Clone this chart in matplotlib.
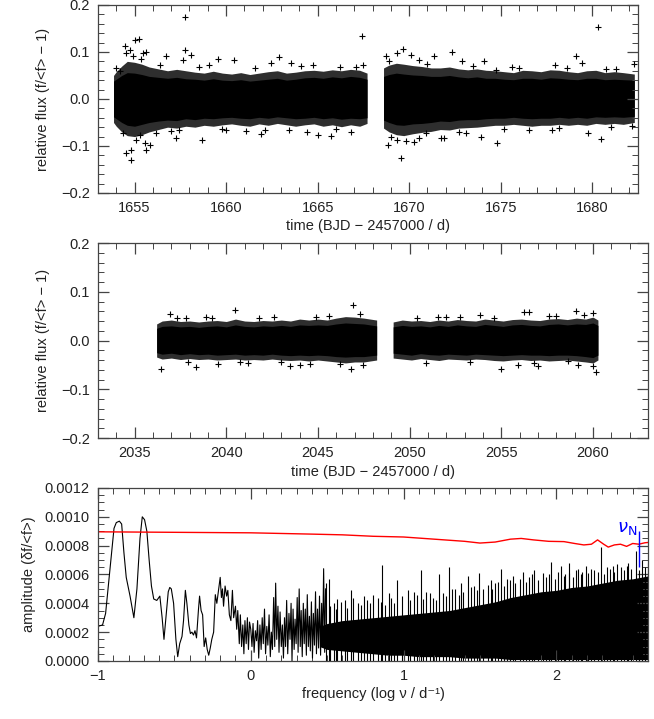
import numpy as np
import matplotlib.pyplot as plt
from matplotlib.ticker import MultipleLocator, FuncFormatter

plt.rcParams['font.family'] = ['Liberation Sans', 'DejaVu Sans']

# --- sector 1 light curve: dense core, sparse fringe, scattered points ---
s1a_t = [1653.85, 1654.0, 1654.3, 1654.6, 1655.0, 1655.4, 1655.8, 1656.3, 1656.8, 1657.3, 1657.8,
         1658.3, 1658.8, 1659.3, 1659.8, 1660.3, 1660.8, 1661.3, 1661.8, 1662.3, 1662.8, 1663.3,
         1663.8, 1664.3, 1664.8, 1665.3, 1665.8, 1666.3, 1666.8, 1667.3, 1667.7]
s1a_hi = [0.05, 0.058, 0.07, 0.08, 0.078, 0.074, 0.068, 0.064, 0.06, 0.063, 0.06, 0.057, 0.055,
          0.059, 0.055, 0.053, 0.056, 0.052, 0.055, 0.058, 0.06, 0.055, 0.057, 0.06, 0.061, 0.059,
          0.062, 0.06, 0.063, 0.061, 0.055]
s1a_lo = [-0.05, -0.058, -0.07, -0.078, -0.08, -0.076, -0.07, -0.065, -0.06, -0.062, -0.058,
          -0.06, -0.056, -0.058, -0.055, -0.053, -0.056, -0.058, -0.053, -0.056, -0.052, -0.055,
          -0.058, -0.055, -0.053, -0.058, -0.055, -0.059, -0.055, -0.058, -0.052]
s1a_chi = [0.038, 0.042, 0.05, 0.056, 0.055, 0.052, 0.048, 0.046, 0.044, 0.046, 0.043, 0.042, 0.04,
           0.043, 0.04, 0.039, 0.041, 0.038, 0.04, 0.042, 0.044, 0.04, 0.042, 0.045, 0.046, 0.044,
           0.047, 0.045, 0.048, 0.046, 0.042]
s1a_clo = [-0.038, -0.042, -0.05, -0.056, -0.058, -0.054, -0.05, -0.047, -0.045, -0.046, -0.042,
           -0.044, -0.041, -0.042, -0.04, -0.039, -0.041, -0.042, -0.039, -0.041, -0.038, -0.04,
           -0.042, -0.041, -0.039, -0.042, -0.04, -0.043, -0.041, -0.042, -0.04]
s1b_t = [1668.6, 1668.9, 1669.3, 1669.7, 1670.2, 1670.7, 1671.2, 1671.7, 1672.2, 1672.7, 1673.2,
         1673.7, 1674.2, 1674.7, 1675.2, 1675.7, 1676.2, 1676.7, 1677.2, 1677.7, 1678.2, 1678.7,
         1679.2, 1679.7, 1680.2, 1680.7, 1681.2, 1681.7, 1682.3]
s1b_hi = [0.066, 0.072, 0.076, 0.074, 0.071, 0.069, 0.066, 0.066, 0.068, 0.064, 0.062, 0.064,
          0.061, 0.06, 0.058, 0.056, 0.061, 0.06, 0.058, 0.062, 0.061, 0.058, 0.056, 0.06, 0.061,
          0.056, 0.058, 0.056, 0.053]
s1b_lo = [-0.062, -0.07, -0.076, -0.078, -0.074, -0.071, -0.069, -0.065, -0.066, -0.062, -0.061,
          -0.06, -0.058, -0.056, -0.056, -0.054, -0.056, -0.058, -0.056, -0.056, -0.054, -0.056,
          -0.054, -0.056, -0.052, -0.054, -0.052, -0.054, -0.05]
s1b_chi = [0.048, 0.052, 0.055, 0.053, 0.051, 0.05, 0.048, 0.048, 0.05, 0.047, 0.045, 0.047,
           0.044, 0.044, 0.042, 0.041, 0.044, 0.044, 0.042, 0.045, 0.044, 0.042, 0.041, 0.044,
           0.044, 0.041, 0.042, 0.041, 0.04]
s1b_clo = [-0.045, -0.05, -0.055, -0.056, -0.053, -0.052, -0.05, -0.047, -0.048, -0.045, -0.044,
           -0.044, -0.042, -0.041, -0.041, -0.039, -0.041, -0.042, -0.041, -0.041, -0.039, -0.041,
           -0.039, -0.041, -0.038, -0.039, -0.038, -0.039, -0.037]
s1_out_t = [1653.96, 1654.18, 1654.45, 1654.73, 1655.0, 1655.24, 1654.55, 1654.9, 1655.45, 1655.64,
            1655.36, 1657.73, 1657.76, 1658.1, 1657.64, 1656.73, 1659.04, 1659.55, 1660.45, 1662.9,
            1663.55, 1662.45, 1664.73, 1654.36, 1654.55, 1654.82, 1654.82, 1655.09, 1655.55, 1655.64,
            1655.85, 1655.27, 1657.27, 1658.67, 1657.45, 1660.0, 1661.1, 1661.9, 1663.45, 1665.0,
            1656.18, 1667.42, 1667.49, 1665.73, 1666.82, 1668.82, 1669.54, 1668.99, 1669.36, 1669.82,
            1670.27, 1670.54, 1671.73, 1671.91, 1672.73, 1673.09, 1673.91, 1674.78, 1676.54, 1677.82,
            1679.78, 1680.5, 1682.18, 1668.73, 1668.91, 1669.36, 1669.67, 1670.09, 1670.54, 1671.36,
            1672.33, 1672.91, 1674.09, 1674.73, 1677.96, 1679.09, 1679.45, 1680.33, 1680.76, 1682.27,
            1676.0, 1656.4, 1658.5, 1661.6, 1664.1, 1666.2, 1667.1, 1657.0, 1659.8, 1662.1, 1664.4,
            1666.0, 1671.0, 1673.5, 1675.6, 1678.6, 1681.3, 1670.9, 1675.2, 1678.2, 1681.0]
s1_out_f = [0.066, 0.059, 0.112, 0.105, 0.126, 0.128, 0.098, 0.091, 0.098, 0.099,
            0.084, 0.174, 0.105, 0.094, 0.082, 0.091, 0.073, 0.084, 0.082, 0.089,
            0.077, 0.077, 0.073, -0.072, -0.115, -0.108, -0.130, -0.087, -0.094, -0.108,
            -0.097, -0.076, -0.083, -0.088, -0.065, -0.065, -0.069, -0.074, -0.065, -0.076,
            -0.072, 0.133, 0.073, -0.079, -0.071, -0.097, -0.126, -0.081, -0.087, -0.090,
            -0.092, -0.083, -0.083, -0.083, -0.071, -0.072, -0.081, -0.094, -0.065, -0.065,
            -0.072, -0.085, -0.058, 0.091, 0.080, 0.098, 0.106, 0.094, 0.082, 0.091,
            0.099, 0.080, 0.080, 0.061, 0.073, 0.091, 0.077, 0.153, 0.064, 0.075,
            0.066, 0.072, 0.068, 0.066, 0.07, 0.067, 0.069, -0.068, -0.064, -0.066, -0.07,
            -0.064, 0.075, 0.07, 0.068, 0.066, 0.064, -0.072, -0.064, -0.062, -0.06]

# --- sector 2 light curve ---
s2a_t = [2036.2, 2036.5, 2037.0, 2037.5, 2038.0, 2038.5, 2039.0, 2039.5, 2040.0, 2040.5, 2041.0,
         2041.5, 2042.0, 2042.5, 2043.0, 2043.5, 2044.0, 2044.5, 2045.0, 2045.5, 2046.0, 2046.5,
         2047.0, 2047.5, 2048.2]
s2a_hi = [0.034, 0.04, 0.042, 0.039, 0.04, 0.038, 0.04, 0.041, 0.039, 0.044, 0.04, 0.039, 0.041,
          0.04, 0.042, 0.04, 0.044, 0.042, 0.044, 0.042, 0.046, 0.049, 0.048, 0.046, 0.042]
s2a_lo = [-0.034, -0.038, -0.036, -0.039, -0.037, -0.039, -0.038, -0.04, -0.039, -0.038, -0.04,
          -0.039, -0.04, -0.038, -0.04, -0.041, -0.04, -0.042, -0.04, -0.042, -0.044, -0.046,
          -0.044, -0.044, -0.04]
s2a_chi = [0.025, 0.029, 0.03, 0.028, 0.029, 0.027, 0.029, 0.03, 0.028, 0.032, 0.029, 0.028, 0.03,
           0.029, 0.031, 0.029, 0.032, 0.031, 0.032, 0.031, 0.034, 0.036, 0.035, 0.034, 0.03]
s2a_clo = [-0.025, -0.028, -0.026, -0.029, -0.027, -0.029, -0.028, -0.03, -0.029, -0.028, -0.03,
           -0.029, -0.03, -0.028, -0.03, -0.031, -0.03, -0.031, -0.03, -0.031, -0.033, -0.034,
           -0.033, -0.033, -0.03]
s2b_t = [2049.1, 2049.6, 2050.1, 2050.6, 2051.1, 2051.6, 2052.1, 2052.6, 2053.1, 2053.6, 2054.1,
         2054.6, 2055.1, 2055.6, 2056.1, 2056.6, 2057.1, 2057.6, 2058.1, 2058.6, 2059.1, 2059.6,
         2060.0, 2060.27]
s2b_hi = [0.038, 0.042, 0.04, 0.041, 0.039, 0.042, 0.04, 0.043, 0.041, 0.04, 0.044, 0.042, 0.04,
          0.043, 0.044, 0.042, 0.041, 0.044, 0.045, 0.043, 0.046, 0.044, 0.048, 0.042]
s2b_lo = [-0.036, -0.038, -0.04, -0.037, -0.039, -0.041, -0.038, -0.039, -0.04, -0.038, -0.039,
          -0.041, -0.042, -0.04, -0.039, -0.041, -0.04, -0.042, -0.041, -0.04, -0.042, -0.044,
          -0.046, -0.04]
s2b_chi = [0.028, 0.031, 0.029, 0.03, 0.028, 0.031, 0.029, 0.032, 0.03, 0.029, 0.033, 0.031,
           0.029, 0.032, 0.033, 0.031, 0.03, 0.033, 0.034, 0.032, 0.034, 0.033, 0.036, 0.031]
s2b_clo = [-0.026, -0.028, -0.03, -0.027, -0.029, -0.03, -0.028, -0.029, -0.03, -0.028, -0.029,
           -0.03, -0.031, -0.03, -0.029, -0.03, -0.03, -0.031, -0.03, -0.03, -0.031, -0.033,
           -0.035, -0.03]
s2_out_t = [2036.42, 2036.95, 2038.36, 2040.45, 2037.82, 2043.45, 2044.0, 2044.55, 2039.55, 2040.73,
            2044.9, 2038.9, 2046.91, 2046.82, 2047.31, 2047.45, 2055.0, 2056.22, 2056.51, 2055.91,
            2057.0, 2059.09, 2060.0, 2060.18, 2060.0, 2053.82, 2051.54, 2052.73, 2058.64, 2058.0,
            2037.3, 2039.2, 2041.8, 2042.6, 2045.6, 2050.4, 2052.0, 2054.6, 2057.6, 2059.5,
            2037.9, 2041.2, 2043.0, 2046.2, 2050.9, 2053.3, 2056.8, 2059.2]
s2_out_f = [-0.059, 0.054, -0.055, 0.063, 0.046, -0.052, -0.05, -0.048, -0.048, -0.045,
            0.049, 0.048, 0.073, -0.059, 0.054, -0.05, -0.059, 0.059, 0.059, -0.05,
            -0.052, 0.061, 0.057, -0.065, -0.053, 0.052, 0.048, 0.048, -0.043, 0.05,
            0.047, 0.046, 0.047, 0.048, 0.05, 0.046, 0.049, 0.047, 0.05, 0.052,
            -0.045, -0.046, -0.044, -0.048, -0.046, -0.045, -0.047, -0.05]

# --- amplitude spectrum ---
lf_x = [-1.0, -0.97, -0.95, -0.92, -0.895, -0.88, -0.86, -0.845, -0.83, -0.815, -0.79, -0.765,
        -0.745, -0.725, -0.71, -0.695, -0.68, -0.665, -0.65, -0.635, -0.615, -0.595, -0.58, -0.568,
        -0.555, -0.54, -0.53, -0.52, -0.505, -0.49, -0.478, -0.465, -0.45, -0.44, -0.428, -0.418,
        -0.405, -0.395, -0.385, -0.375, -0.365, -0.355, -0.342, -0.335, -0.325, -0.315, -0.305,
        -0.295, -0.285, -0.275, -0.265, -0.255, -0.243, -0.232, -0.222, -0.212, -0.2, -0.192,
        -0.185, -0.178, -0.168, -0.158, -0.15, -0.14, -0.13, -0.12, -0.112, -0.1, -0.092, -0.085,
        -0.075, -0.068, -0.06, -0.052, -0.045, -0.038, -0.03, -0.022, -0.015, -0.008, 0.0, 0.008,
        0.015, 0.022, 0.03, 0.038, 0.045, 0.052, 0.06, 0.068, 0.075, 0.082, 0.09, 0.097, 0.105,
        0.112, 0.12, 0.128, 0.135, 0.142, 0.15, 0.157, 0.163, 0.17, 0.178, 0.185, 0.192, 0.2,
        0.207, 0.214, 0.221, 0.228, 0.235, 0.242, 0.25, 0.257, 0.264, 0.27, 0.277, 0.284, 0.29,
        0.297, 0.304, 0.31, 0.317, 0.324, 0.33, 0.337, 0.344, 0.35, 0.357, 0.364, 0.37, 0.377,
        0.384, 0.39, 0.397, 0.404, 0.41, 0.417, 0.424, 0.43, 0.437, 0.444, 0.45, 0.457, 0.464,
        0.47, 0.477, 0.484, 0.49]
lf_a = [0.00024, 0.00025, 0.00033, 0.00065, 0.00092, 0.00096, 0.00097, 0.00095, 0.00075, 0.00058,
        0.00045, 0.0003, 0.0005, 0.00085, 0.001, 0.00098, 0.0009, 0.0007, 0.00052, 0.00043,
        0.00042, 0.00045, 0.0003, 0.00015, 0.0003, 0.00048, 0.00051, 0.0005, 0.0004, 0.00015,
        0.00003, 0.00012, 0.00017, 0.00028, 0.00049, 0.0004, 0.00025, 0.00019, 0.0002, 0.00018,
        0.00021, 0.00016, 0.00036, 0.00045, 0.00035, 0.00032, 0.0001, 0.00016, 0.00008, 0.00004,
        0.00009, 0.00015, 0.0002, 0.00046, 0.0004, 0.00048, 0.00058, 0.00044, 0.0005, 0.00038,
        0.00052, 0.00045, 0.00049, 0.00032, 0.00028, 0.00049, 0.0003, 0.00038, 0.00022, 0.00035,
        0.00012, 0.00032, 0.0001, 0.00025, 0.00005, 0.00028, 0.00012, 0.0003, 0.00008, 0.00027,
        0.00022, 0.0001, 0.00026, 0.00006, 0.00021, 0.00014, 0.00028, 0.00002, 0.00025, 0.00008,
        0.0003, 0.00012, 0.00036, 0.00005, 0.00024, 0.00011, 0.00032, 0.00003, 0.0002, 0.00008,
        0.00044, 0.0001, 0.00054, 0.00015, 0.00038, 0.00006, 0.00034, 0.0001, 0.00025, 0.00002,
        0.0003, 0.0001, 0.00042, 0.00005, 0.00033, 0.00015, 0.0004, 0.0, 0.00036, 0.00008,
        0.00029, 0.00012, 0.00044, 0.00006, 0.0005, 0.0001, 0.00035, 0.00003, 0.0004, 0.00012,
        0.00036, 0.00004, 0.00046, 0.0001, 0.00031, 0.00007, 0.00041, 0.00002, 0.00033, 0.00011,
        0.00048, 0.00005, 0.00036, 0.00009, 0.00045, 0.00004, 0.0004, 0.0001, 0.00064, 0.00006,
        0.0005]
band_x = [0.45, 0.5, 0.6, 0.7, 0.8, 0.9, 1.0, 1.1, 1.2, 1.3, 1.4, 1.5, 1.6, 1.7, 1.8, 1.9, 2.0,
          2.1, 2.2, 2.3, 2.4, 2.5, 2.6]
band_hi = [0.00024, 0.00026, 0.00028, 0.00029, 0.0003, 0.00031, 0.00032, 0.00033, 0.00034,
           0.00035, 0.00037, 0.00039, 0.00041, 0.00044, 0.00046, 0.00048, 0.00049, 0.00051, 0.00052,
           0.00054, 0.00056, 0.00057, 0.00059]
band_lo = [0.0001, 0.00008, 0.00007, 0.00006, 0.00005, 0.00004, 0.00004, 0.00003, 0.00003,
           0.00003, 0.00002, 0.00002, 0.00002, 0.00001, 0.00001, 0.00001, 0.00001, 0.00001,
           0.00001, 0.00001, 0.00001, 0.00001, 0.00001]
spike_x = [0.49, 0.51, 0.546, 0.567, 0.62, 0.655, 0.7, 0.74, 0.78, 0.83, 0.862, 0.905, 0.96,
           1.026, 1.07, 1.113, 1.17, 1.233, 1.299, 1.34, 1.375, 1.419, 1.46, 1.495, 1.572, 1.6,
           1.637, 1.68, 1.714, 1.779, 1.82, 1.856, 1.91, 1.965, 2.03, 2.06, 2.085, 2.14, 2.17,
           2.194, 2.249, 2.292, 2.33, 2.368, 2.4, 2.423, 2.47, 2.52, 2.564, 2.597,
           0.52, 0.56, 0.59, 0.63, 0.67, 0.72, 0.76, 0.8, 0.85, 0.88, 0.92, 0.94, 0.99, 1.04, 1.09,
           1.13, 1.15, 1.19, 1.21, 1.26, 1.28, 1.32, 1.36, 1.39, 1.44, 1.48, 1.52, 1.55, 1.58,
           1.62, 1.66, 1.7, 1.73, 1.76, 1.8, 1.84, 1.88, 1.93, 1.95, 1.99, 2.01, 2.05, 2.08, 2.11,
           2.13, 2.16, 2.21, 2.23, 2.27, 2.31, 2.35, 2.38, 2.44, 2.46, 2.49, 2.54, 2.58]
spike_a = [0.00054, 0.00057, 0.0004, 0.00043, 0.00042, 0.00049, 0.0004, 0.00045, 0.0004, 0.00044,
           0.000665, 0.00047, 0.00056, 0.00049, 0.00048, 0.00063, 0.00047, 0.0006, 0.000655,
           0.0005, 0.00054, 0.00059, 0.00052, 0.00061, 0.00056, 0.00054, 0.00064, 0.00057,
           0.00059, 0.00062, 0.00058, 0.00063, 0.00061, 0.00069, 0.00066, 0.0006, 0.00068,
           0.00064, 0.00062, 0.00066, 0.00063, 0.00079, 0.00065, 0.00066, 0.00067, 0.00065,
           0.00068, 0.00076, 0.0007, 0.00068,
           0.00038, 0.00036, 0.00041, 0.00037, 0.00044, 0.00039, 0.00042, 0.00046, 0.00041,
           0.00039, 0.00044, 0.0004, 0.00045, 0.00042, 0.00046, 0.00043, 0.00048, 0.00044,
           0.00042, 0.00047, 0.00045, 0.0005, 0.00046, 0.00048, 0.00051, 0.00049, 0.0005, 0.00053,
           0.0005, 0.00055, 0.00052, 0.00056, 0.00054, 0.00057, 0.00055, 0.0006, 0.00056, 0.00058,
           0.0006, 0.00057, 0.00062, 0.00059, 0.00061, 0.00058, 0.00063, 0.0006, 0.00061, 0.00064,
           0.00062, 0.0006, 0.00064, 0.00062, 0.00063, 0.00066, 0.00064, 0.00063, 0.00065]
sig_x = [-1.0, 0.0, 0.4, 0.6, 0.8, 1.0, 1.2, 1.4, 1.5, 1.6, 1.7, 1.77, 1.85, 1.95, 2.05, 2.12,
         2.18, 2.23, 2.27, 2.31, 2.34, 2.38, 2.42, 2.46, 2.5, 2.54, 2.58, 2.6]
sig_a = [0.000896, 0.000889, 0.00088, 0.000875, 0.000865, 0.00086, 0.000845, 0.00083, 0.000818,
         0.000825, 0.000845, 0.00085, 0.00084, 0.00083, 0.000828, 0.000815, 0.000805, 0.00081,
         0.00084, 0.00081, 0.00079, 0.000805, 0.00081, 0.000795, 0.000815, 0.00081, 0.00082,
         0.000822]
nyq_x = 2.543

tcol = '#222222'


def minus(v, pos, fmt):
    return (fmt % v).replace('-', '\u2212')


def style(ax):
    ax.tick_params(which='both', direction='in', top=True, right=True, colors='#444444',
                   labelcolor=tcol, labelsize=10.5, pad=6)
    ax.tick_params(which='major', length=8, width=0.9)
    ax.tick_params(which='minor', length=4, width=0.7)
    for s in ax.spines.values():
        s.set_color('#444444')
        s.set_linewidth(0.9)


fig = plt.figure(figsize=(6.54, 7.19), dpi=100)
ax1 = fig.add_axes([0.1498, 0.7316, 0.8257, 0.2615])
ax2 = fig.add_axes([0.1498, 0.3908, 0.8410, 0.2712])
ax3 = fig.add_axes([0.1498, 0.0807, 0.8410, 0.2406])

panels = [
    (ax1, [(s1a_t, s1a_hi, s1a_lo, s1a_chi, s1a_clo), (s1b_t, s1b_hi, s1b_lo, s1b_chi, s1b_clo)],
     s1_out_t, s1_out_f, (1653, 1682.5)),
    (ax2, [(s2a_t, s2a_hi, s2a_lo, s2a_chi, s2a_clo), (s2b_t, s2b_hi, s2b_lo, s2b_chi, s2b_clo)],
     s2_out_t, s2_out_f, (2033, 2063)),
]
for ax, segs, ot, of, xl in panels:
    for t, hi, lo, chi, clo in segs:
        ax.fill_between(t, lo, hi, color='#2e2e2e', lw=0)
        ax.fill_between(t, clo, chi, color='black', lw=0)
    ax.plot(ot, of, '+', color='black', ms=4, mew=0.8)
    ax.set_xlim(*xl)
    ax.set_ylim(-0.2, 0.2)
    ax.xaxis.set_major_locator(MultipleLocator(5))
    ax.xaxis.set_minor_locator(MultipleLocator(1))
    ax.yaxis.set_major_locator(MultipleLocator(0.1))
    ax.yaxis.set_minor_locator(MultipleLocator(0.02))
    ax.yaxis.set_major_formatter(FuncFormatter(lambda v, p: minus(v, p, '%.1f')))
    ax.set_xlabel('time (BJD \u2212 2457000 / d)', fontsize=10.5, color=tcol, labelpad=3)
    ax.set_ylabel('relative flux (f/<f> \u2212 1)', fontsize=10.5, color=tcol, labelpad=8)
    style(ax)

ax3.plot(lf_x, lf_a, color='black', lw=0.8)
ax3.fill_between(band_x, band_lo, band_hi, color='black', lw=0)
ax3.vlines(spike_x, 0, spike_a, color='black', lw=0.8)
ax3.plot(sig_x, sig_a, color='red', lw=1.0)
ax3.vlines([nyq_x], 0.00065, 0.0009, color='blue', lw=1.0)
ax3.text(nyq_x - 0.01, 0.00086, r'$\nu_{\rm N}$', color='blue', fontsize=13, ha='right', va='bottom')
ax3.set_xlim(-1, 2.6)
ax3.set_ylim(0, 0.0012)
ax3.xaxis.set_major_locator(MultipleLocator(1))
ax3.xaxis.set_minor_locator(MultipleLocator(0.1))
ax3.yaxis.set_major_locator(MultipleLocator(0.0002))
ax3.yaxis.set_minor_locator(MultipleLocator(0.00005))
ax3.xaxis.set_major_formatter(FuncFormatter(lambda v, p: minus(v, p, '%d')))
ax3.yaxis.set_major_formatter(FuncFormatter(lambda v, p: minus(v, p, '%.4f')))
ax3.set_xlabel('frequency (log \u03bd / d\u207b\u00b9)', fontsize=10.5, color=tcol, labelpad=3)
ax3.set_ylabel('amplitude (\u03b4f/<f>)', fontsize=10.5, color=tcol, labelpad=6)
style(ax3)

fig.savefig('out.png', dpi=100)
